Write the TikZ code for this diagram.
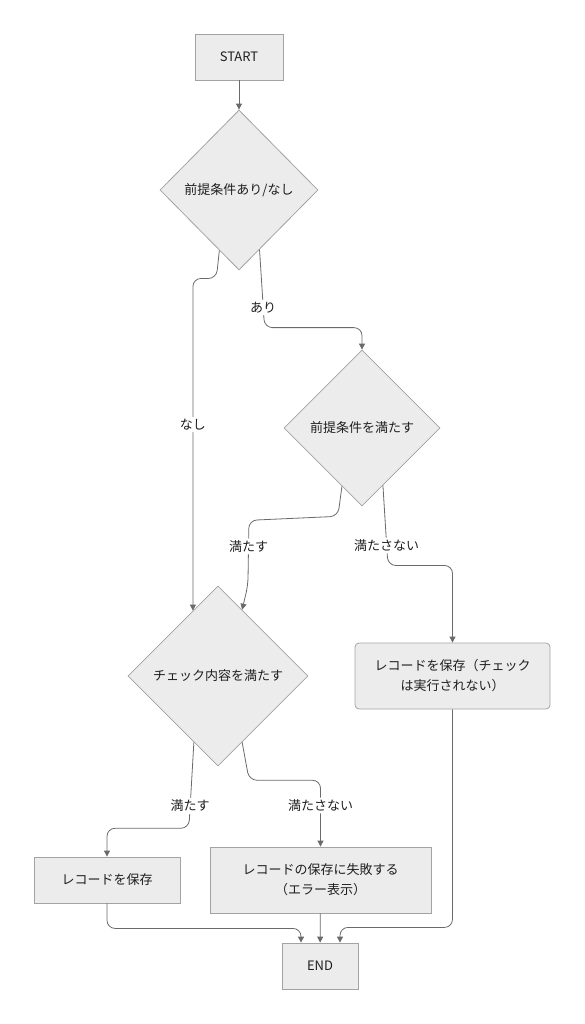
\documentclass[tikz,border=0pt]{standalone}
\usepackage{fontspec}
\setmainfont{Noto Sans CJK JP}
\usetikzlibrary{shapes.geometric,arrows.meta}
\definecolor{boxfill}{HTML}{ECECEC}
\definecolor{boxline}{HTML}{A3A3A3}
\definecolor{linkline}{HTML}{6A6A6A}
\definecolor{textcol}{HTML}{1F1F1F}

\begin{document}
\begin{tikzpicture}[x=1pt,y=-1pt,>={Triangle[length=6pt,width=6pt]},
    every node/.style={font=\fontsize{13}{20}\selectfont,text=textcol},
    box node/.style={rectangle,draw=boxline,fill=boxfill,line width=0.8pt,align=center,inner sep=0pt},
    diamond node/.style={diamond,draw=boxline,fill=boxfill,line width=0.8pt,inner sep=0pt,aspect=1},
    link/.style={->,draw=linkline,line width=0.8pt,rounded corners=8pt},
    link label/.style={fill=white,inner sep=2pt}]

    \useasboundingbox (0,0) rectangle (584,1024);

    \node[box node,minimum width=88pt,minimum height=46pt] (start) at (239,57) {START};
    \node[diamond node,minimum width=158pt,minimum height=160pt] (d1) at (239,190) {前提条件あり/なし};
    \node[diamond node,minimum width=156pt,minimum height=156pt] (d2) at (362,428) {前提条件を満たす};
    \node[diamond node,minimum width=180pt,minimum height=180pt] (d3) at (218,676) {チェック内容を満たす};
    \node[box node,rounded corners=4pt,minimum width=195pt,minimum height=66pt] (save1) at (452.5,676) {レコードを保存（チェック\\は実行されない）};
    \node[box node,minimum width=146pt,minimum height=46pt] (ok) at (107,880) {レコードを保存};
    \node[box node,minimum width=221pt,minimum height=66pt] (fail) at (320.5,880) {レコードの保存に失敗する\\（エラー表示）};
    \node[box node,minimum width=76pt,minimum height=46pt] (end) at (320,966) {END};

    \draw[link] (start) -- (d1);
    \draw[link] (d1.252) -- ++(-3,28) -| node[link label,pos=0.72] {なし} (d3.111);
    \draw[link] (d1.289) -- node[link label,pos=0.74] {あり} ++(5,78) -| (d2.north);
    \draw[link] (d2.251) -- ++(-4,30) -- ++(-89,4) -- node[link label,pos=0.4] {満たす} ++(-1,65) -- (d3.70);
    \draw[link] (d2.290) -- node[link label,pos=0.75] {満たさない} ++(5,80) -| (save1.north);
    \draw[link] (d3.250) -- node[link label,pos=0.74] {満たす} ++(-5,86) -| (ok.north);
    \draw[link] (d3.290) -- ++(7,38) -| node[link label,pos=0.69] {満たさない} (fail.north);

    \draw[link] (ok.south) -- ++(0,25) -| ([xshift=-19pt]end.north);
    \draw[link] (fail) -- (end);
    \draw[link] (save1.south) -- ++(0,218) -| ([xshift=20pt]end.north);

\end{tikzpicture}
\end{document}
